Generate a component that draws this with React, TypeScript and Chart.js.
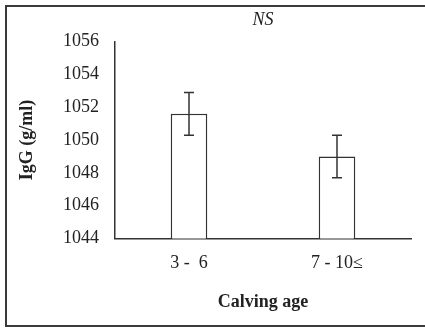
import React, { useEffect, useRef } from "react";
import { Chart, registerables } from "chart.js";

Chart.register(...registerables);

const categories = ["3 -  6", "7 - 10≤"];
const means = [1051.6, 1049.0];
const errors = [1.3, 1.3];
const yTicks = [1044, 1046, 1048, 1050, 1052, 1054, 1056];

const FONT = "'Liberation Serif', 'Times New Roman', serif";
const INK = "#333333";

const errorBarPlugin = {
  id: "errorBars",
  afterDatasetsDraw(chart: any) {
    const ctx = chart.ctx;
    const yScale = chart.scales.y;
    const meta = chart.getDatasetMeta(0);
    ctx.save();
    ctx.strokeStyle = INK;
    ctx.lineWidth = 1.5;
    meta.data.forEach((bar: any, i: number) => {
      const x = bar.x;
      const yTop = yScale.getPixelForValue(means[i] + errors[i]);
      const yBot = yScale.getPixelForValue(means[i] - errors[i]);
      const cap = 5;
      ctx.beginPath();
      ctx.moveTo(x, yTop);
      ctx.lineTo(x, yBot);
      ctx.moveTo(x - cap, yTop);
      ctx.lineTo(x + cap, yTop);
      ctx.moveTo(x - cap, yBot);
      ctx.lineTo(x + cap, yBot);
      ctx.stroke();
    });
    ctx.restore();
  },
};

const framePlugin = {
  id: "frame",
  beforeDraw(chart: any) {
    const ctx = chart.ctx;
    const w = chart.width;
    const h = chart.height;
    ctx.save();
    ctx.fillStyle = "#ffffff";
    ctx.fillRect(0, 0, w, h);
    ctx.strokeStyle = "#3a3a3a";
    ctx.lineWidth = 2;
    ctx.beginPath();
    ctx.moveTo(w, 6);
    ctx.lineTo(6, 6);
    ctx.lineTo(6, h - 2);
    ctx.lineTo(w, h - 2);
    ctx.stroke();
    ctx.restore();
  },
};

export default function App() {
  const ref = useRef<HTMLCanvasElement | null>(null);
  useEffect(() => {
    document.body.style.margin = "0";
    if (!ref.current) return;
    const chart = new Chart(ref.current, {
      type: "bar",
      data: {
        labels: categories,
        datasets: [
          {
            data: means,
            backgroundColor: "#ffffff",
            borderColor: INK,
            borderWidth: 1.5,
            categoryPercentage: 1,
            barPercentage: 0.247,
          },
        ],
      },
      options: {
        responsive: false,
        animation: false,
        devicePixelRatio: 1,
        layout: { padding: { left: 13, right: 14, top: 0, bottom: 11 } },
        plugins: {
          legend: { display: false },
          tooltip: { enabled: false },
          title: {
            display: true,
            text: "NS",
            fullSize: false,
            color: "#222",
            font: { family: FONT, size: 18, style: "italic", weight: "normal" },
            padding: { top: 9, bottom: 11 },
          },
        },
        scales: {
          x: {
            grid: { display: false, drawTicks: false },
            border: { display: true, color: INK, width: 1.5 },
            ticks: {
              color: "#222",
              padding: 14,
              font: { family: FONT, size: 18 },
            },
            title: {
              display: true,
              text: "Calving age",
              color: "#222",
              font: { family: FONT, size: 18, weight: "bold" },
              padding: { top: 4, bottom: 4 },
            },
            afterFit(scale: any) {
              scale.height = 78.5;
            },
          },
          y: {
            min: yTicks[0],
            max: yTicks[yTicks.length - 1],
            afterBuildTicks(scale: any) {
              scale.ticks = yTicks.map((v) => ({ value: v }));
            },
            grid: { display: false, drawTicks: false },
            border: { display: true, color: INK, width: 1.5 },
            ticks: {
              color: "#222",
              padding: 16,
              font: { family: FONT, size: 18 },
              callback: (v: any) => String(v),
            },
            title: {
              display: true,
              text: "IgG (g/ml)",
              color: "#222",
              font: { family: FONT, size: 18, weight: "bold" },
              padding: { top: 4, bottom: 4 },
            },
            afterFit(scale: any) {
              scale.width = 102;
            },
          },
        },
      },
      plugins: [framePlugin, errorBarPlugin],
    });
    return () => chart.destroy();
  }, []);

  return (
    <div
      style={{
        position: "fixed",
        left: 0,
        top: 0,
        width: 425,
        height: 328,
        background: "#fff",
        overflow: "hidden",
      }}
    >
      <canvas
        ref={ref}
        width={425}
        height={328}
        style={{ position: "absolute", left: 0, top: 0 }}
      />
    </div>
  );
}
